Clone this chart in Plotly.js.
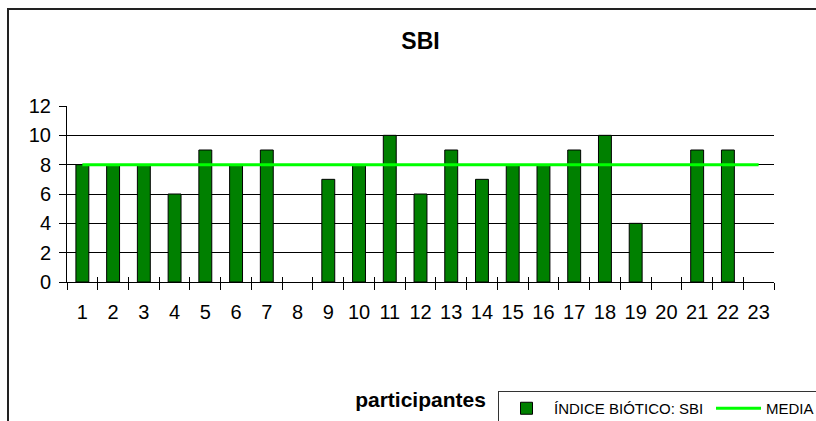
<!DOCTYPE html>
<html>
<head>
<meta charset="utf-8">
<script src="https://cdn.plot.ly/plotly-3.0.1.min.js"></script>
<style>html,body{margin:0;padding:0;background:#fff}#chart{width:816px;height:421px}</style>
</head>
<body>
<div id="chart"></div>
<script>
var categories = ['1','2','3','4','5','6','7','8','9','10','11','12','13','14','15','16','17','18','19','20','21','22','23'];
var sbiValues = [8, 8, 8, 6, 9, 8, 9, null, 7, 8, 10, 6, 9, 7, 8, 8, 9, 10, 4, null, 9, 9, null];
var mediaValues = [8, 8, 8, 8, 8, 8, 8, 8, 8, 8, 8, 8, 8, 8, 8, 8, 8, 8, 8, 8, 8, 8, 8];
var yTicks = [0, 2, 4, 6, 8, 10, 12];
var seriesNames = ['ÍNDICE BIÓTICO: SBI', 'MEDIA'];
var chartTitle = 'SBI';
var xTitle = 'participantes';

var FONT = 'Liberation Sans, Arial, sans-serif';

var traces = [
  {
    type: 'bar', name: seriesNames[0], x: categories, y: sbiValues,
    xaxis: 'x', yaxis: 'y', width: 0.42,
    marker: {color: '#008000', line: {color: '#000000', width: 1}}
  },
  {
    type: 'scatter', mode: 'lines', name: seriesNames[1], x: categories, y: mediaValues,
    xaxis: 'x2', yaxis: 'y',
    line: {color: '#00FF00', width: 3}
  }
];

var layout = {
  width: 816, height: 421,
  paper_bgcolor: '#ffffff', plot_bgcolor: '#ffffff',
  margin: {l: 67, r: 42, t: 106, b: 139, autoexpand: false},
  font: {family: FONT, color: '#000000', size: 20},
  title: {text: '<b>' + chartTitle + '</b>', font: {family: FONT, size: 23, color: '#000'},
          xref: 'paper', x: 0.5, xanchor: 'center', yref: 'container', y: 0.903, yanchor: 'middle'},
  showlegend: true,
  legend: {
    orientation: 'h', x: (498 - 67) / 707, xanchor: 'left', y: (282 - 391) / 176, yanchor: 'top',
    bgcolor: '#ffffff', bordercolor: '#333333', borderwidth: 1,
    font: {family: FONT, size: 15, color: '#000'},
    itemwidth: 45, entrywidth: 152, entrywidthmode: 'pixels', traceorder: 'normal'
  },
  xaxis: {
    type: 'category', range: [-0.5, 22.5], tickson: 'boundaries', tickangle: 0,
    ticks: 'outside', ticklen: 7, tickcolor: '#000', tickwidth: 1, ticklabelstandoff: 12,
    showline: true, linecolor: '#000', linewidth: 1, showgrid: false, zeroline: false,
    tickfont: {family: FONT, size: 20, color: '#000'},
    title: {text: '<b>' + xTitle + '</b>', font: {family: FONT, size: 21, color: '#000'}, standoff: 70},
    fixedrange: true
  },
  xaxis2: {
    type: 'category', range: [-0.5, 22.5], overlaying: 'x', anchor: 'y', side: 'bottom',
    tickson: 'boundaries', ticks: 'inside', ticklen: 5, tickcolor: '#000', tickwidth: 1,
    showticklabels: false, showline: false, showgrid: false, zeroline: false, fixedrange: true
  },
  yaxis: {
    range: [0, 12], tickvals: yTicks, ticks: 'outside', ticklen: 7, tickcolor: '#000',
    showline: true, linecolor: '#000', linewidth: 1,
    showgrid: true, gridcolor: '#000', gridwidth: 1, zeroline: false,
    tickfont: {family: FONT, size: 20, color: '#000'}, ticklabelstandoff: 4, fixedrange: true
  },
  shapes: [
    {type: 'rect', xref: 'paper', yref: 'paper',
     x0: (8 - 67) / 707, x1: 1.3, y0: -1.5, y1: (282 - 9) / 176,
     line: {color: '#222222', width: 2}, fillcolor: 'rgba(0,0,0,0)', layer: 'below'}
  ]
};

Plotly.newPlot('chart', traces, layout, {staticPlot: true, displayModeBar: false});
</script>
</body>
</html>
